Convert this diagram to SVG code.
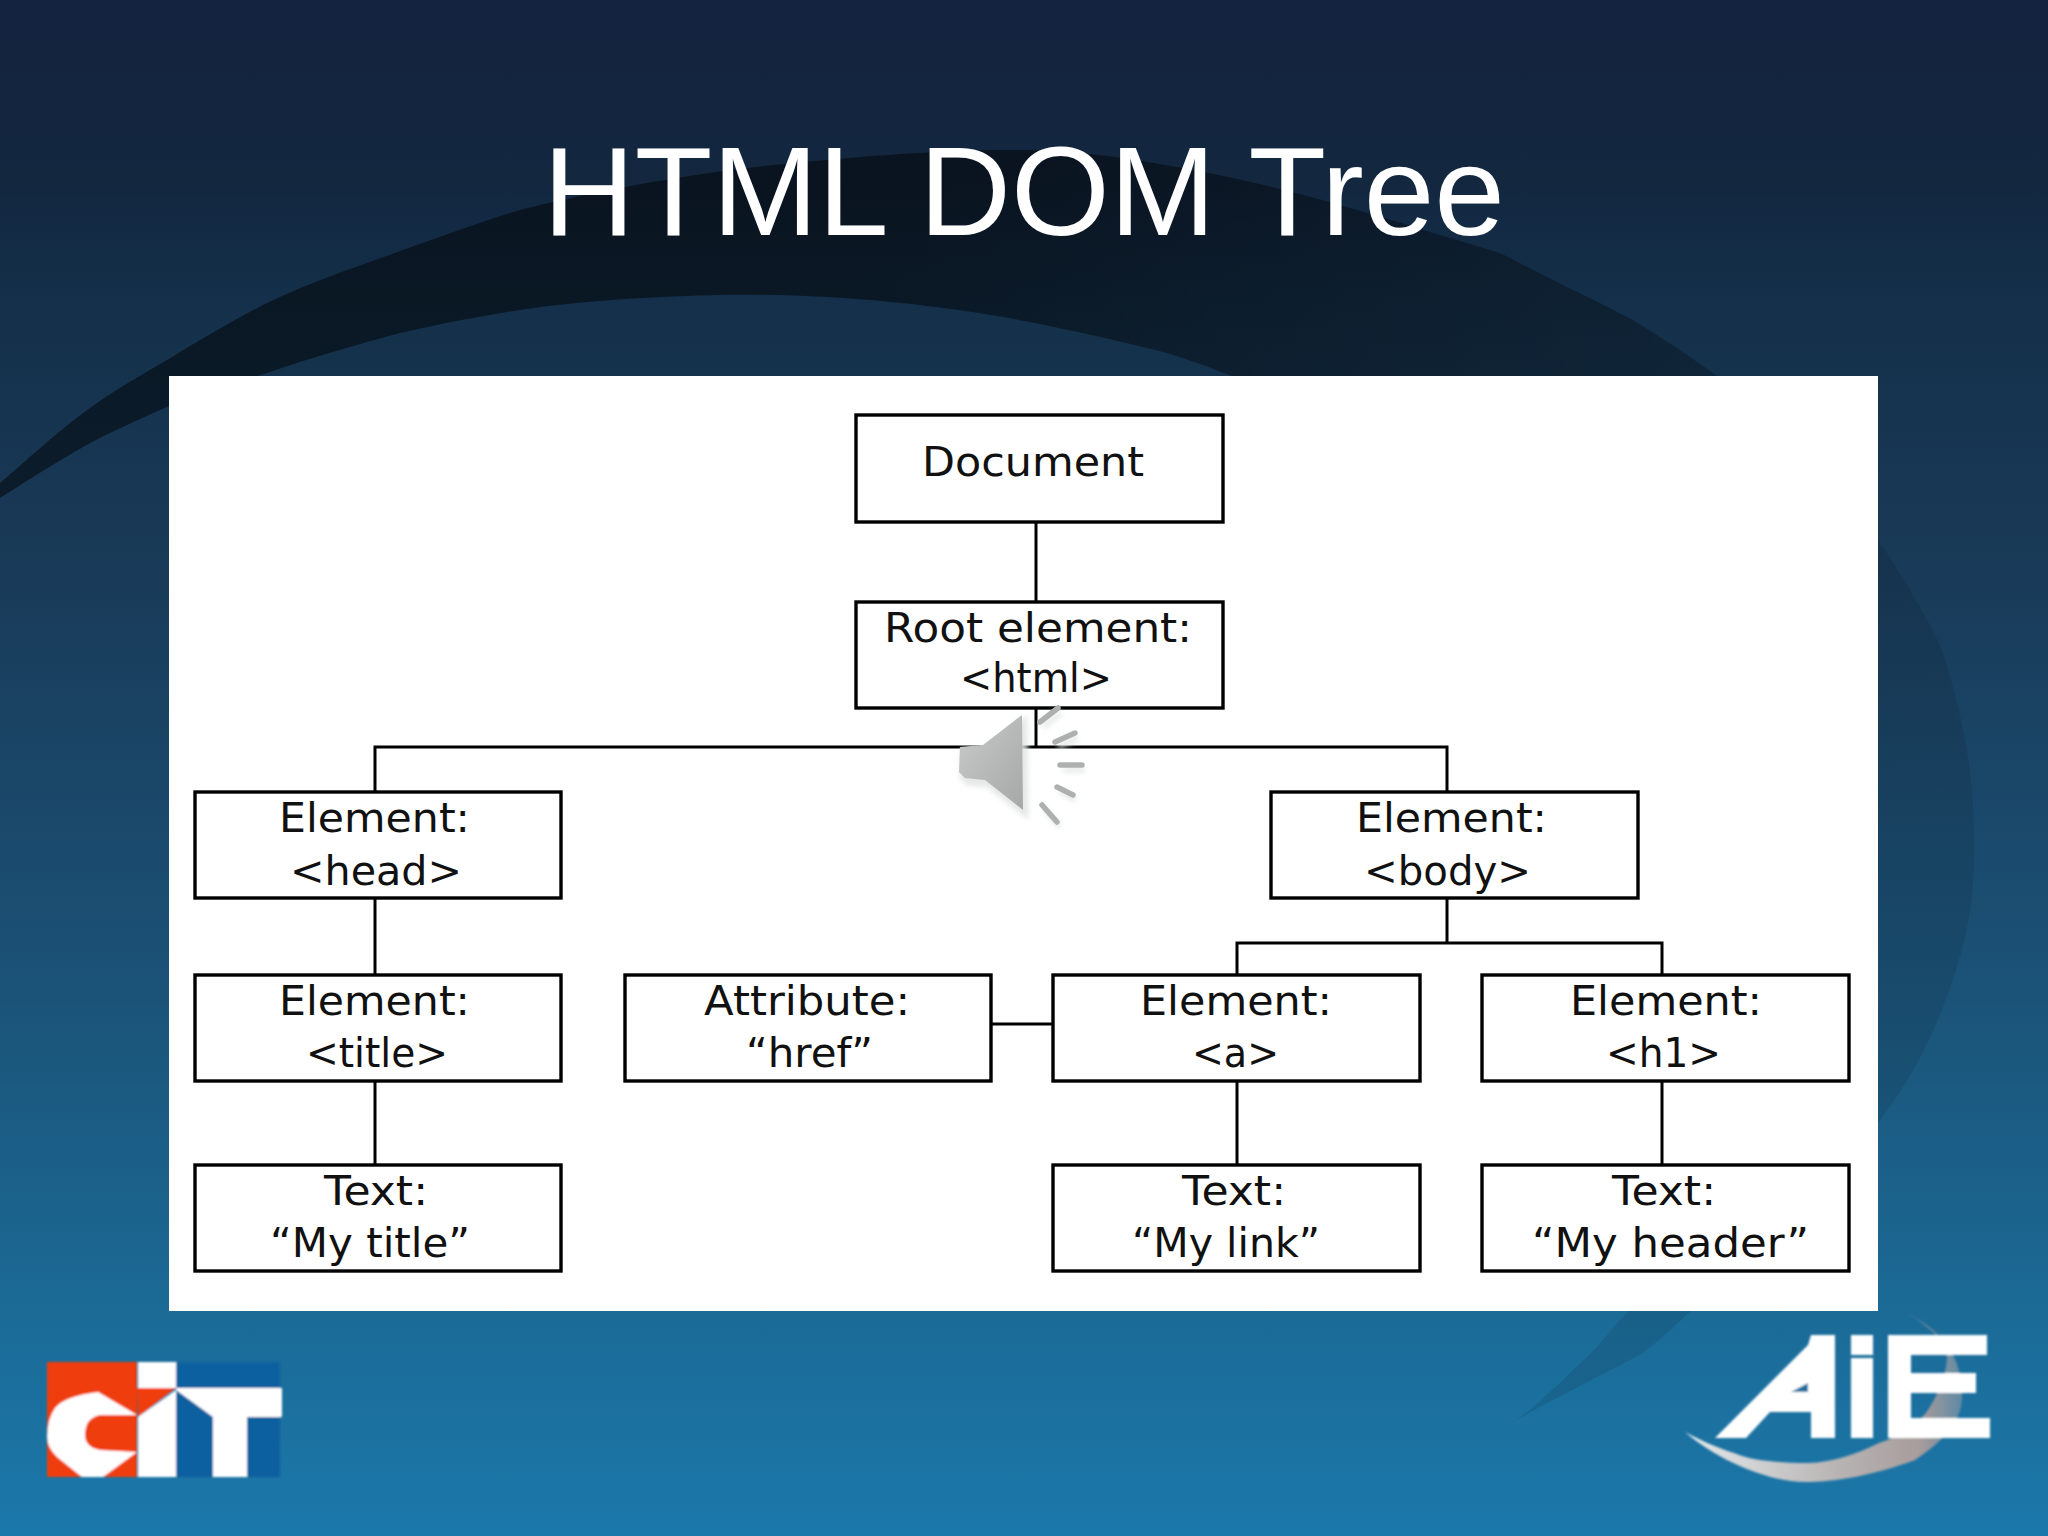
<svg xmlns="http://www.w3.org/2000/svg" width="2048" height="1536" viewBox="0 0 2048 1536">
<style>
.box{fill:#fff;stroke:#000;stroke-width:3.4}
.t{font-family:"DejaVu Sans","Liberation Sans",sans-serif;font-size:41px;fill:#111}
.c{fill:none;stroke:#000;stroke-width:3}
.ray{stroke:#aeb0b0;stroke-width:5.5;stroke-linecap:round;fill:none}
.w{fill:#fff}
</style>
<defs>
<linearGradient id="bg" x1="0" y1="0" x2="0" y2="1">
<stop offset="0" stop-color="#14233f"/><stop offset=".12" stop-color="#13273f"/><stop offset=".145" stop-color="#132a44"/><stop offset=".2" stop-color="#14304a"/><stop offset=".37" stop-color="#193a58"/><stop offset=".65" stop-color="#1b5378"/><stop offset=".85" stop-color="#1b6a96"/><stop offset="1" stop-color="#1b78aa"/>
</linearGradient>
<linearGradient id="sw" gradientUnits="userSpaceOnUse" x1="1000" y1="100" x2="1950" y2="800">
<stop offset="0" stop-color="#000" stop-opacity=".5"/><stop offset=".45" stop-color="#000" stop-opacity=".33"/><stop offset=".62" stop-color="#000" stop-opacity=".28"/><stop offset=".75" stop-color="#000" stop-opacity=".12"/><stop offset="1" stop-color="#000" stop-opacity=".1"/>
</linearGradient>
<linearGradient id="cres" x1="0" y1="0" x2="1" y2="0">
<stop offset="0" stop-color="#e6eaec"/><stop offset=".55" stop-color="#b8b4b4"/><stop offset=".85" stop-color="#a89c9c"/><stop offset="1" stop-color="#5f8aa4"/>
</linearGradient>
<linearGradient id="spk" x1="0" y1="0" x2="1" y2="1">
<stop offset="0" stop-color="#c9caca"/><stop offset="1" stop-color="#a6a8a8"/>
</linearGradient>
<filter id="blur" x="-30%" y="-30%" width="160%" height="160%"><feGaussianBlur stdDeviation="2.5"/></filter>
<filter id="soft" x="-5%" y="-5%" width="110%" height="110%"><feGaussianBlur stdDeviation=".8"/></filter>
</defs>

<rect id="background" width="2048" height="1536" fill="url(#bg)"/>
<path id="swoosh" fill="url(#sw)" d="M0,483 C28,459 55,434 83,413 C111,392 138,377 167,360 C200,340 233,320 267,303 C300,287 333,275 367,263 C418,245 470,225 520,210 C600,190 700,172 784,164 C862,156 951,149 1024,150 C1097,151 1170,165 1233,178 C1270,186 1300,194 1333,203 C1367,213 1400,222 1433,233 C1456,240 1478,246 1500,253 C1522,264 1545,276 1567,287 C1590,298 1612,309 1633,320 C1662,338 1688,355 1713,373 C1760,412 1835,485 1880,543 C1891,558 1900,574 1910,590 C1923,612 1935,632 1943,653 C1958,700 1971,758 1973,806 C1975,854 1976,901 1961,953 C1946,1005 1926,1059 1881,1119 C1836,1179 1752,1261 1690,1312 C1677,1324 1662,1338 1647,1350 C1630,1361 1613,1369 1597,1377 C1580,1386 1563,1395 1547,1403 C1535,1410 1523,1416 1512,1422 C1518,1418 1524,1414 1530,1410 C1541,1400 1552,1390 1563,1380 C1574,1369 1586,1358 1597,1347 C1607,1335 1617,1323 1627,1312 C1680,1200 1750,1000 1700,800 C1640,600 1400,430 1223,373 C1205,365 1185,359 1167,353 C1145,347 1122,342 1100,337 C1075,331 1050,326 1024,321 C930,303 820,293 718,295 C650,297 585,300 520,310 C480,316 440,324 400,333 C355,345 310,358 267,373 C233,384 200,395 167,407 C140,419 110,432 83,447 C55,463 28,480 0,498 Z"/>

<text id="title" x="1024" y="235" text-anchor="middle" font-family="Liberation Sans, Arial, sans-serif" font-size="127" fill="#fff">HTML DOM Tree</text>

<rect id="panel" x="169" y="376" width="1709" height="935" fill="#fff"/>

<g id="connectors">
<path class="c" d="M1036,522V602"/>
<path class="c" d="M1036,708V747"/>
<path class="c" d="M375,792V747H1447V792"/>
<path class="c" d="M375,898V975"/>
<path class="c" d="M375,1081V1165"/>
<path class="c" d="M1447,898V943"/>
<path class="c" d="M1237,975V943H1662V975"/>
<path class="c" d="M991,1024H1053"/>
<path class="c" d="M1237,1081V1165"/>
<path class="c" d="M1662,1081V1165"/>
</g>

<g id="node-document"><rect class="box" x="856" y="415" width="367" height="107"/>
<text class="t" x="922" y="476" textLength="222" lengthAdjust="spacingAndGlyphs">Document</text></g>
<g id="node-root"><rect class="box" x="856" y="602" width="367" height="106"/>
<text class="t" x="884" y="642" textLength="308" lengthAdjust="spacingAndGlyphs">Root element:</text>
<text class="t" x="960" y="692" textLength="152" lengthAdjust="spacingAndGlyphs">&lt;html&gt;</text></g>
<g id="node-head"><rect class="box" x="195" y="792" width="366" height="106"/>
<text class="t" x="279" y="832" textLength="191" lengthAdjust="spacingAndGlyphs">Element:</text>
<text class="t" x="290" y="885" textLength="172" lengthAdjust="spacingAndGlyphs">&lt;head&gt;</text></g>
<g id="node-body"><rect class="box" x="1271" y="792" width="367" height="106"/>
<text class="t" x="1356" y="832" textLength="191" lengthAdjust="spacingAndGlyphs">Element:</text>
<text class="t" x="1364" y="885" textLength="167" lengthAdjust="spacingAndGlyphs">&lt;body&gt;</text></g>
<g id="node-title"><rect class="box" x="195" y="975" width="366" height="106"/>
<text class="t" x="279" y="1015" textLength="191" lengthAdjust="spacingAndGlyphs">Element:</text>
<text class="t" x="306" y="1067" textLength="142" lengthAdjust="spacingAndGlyphs">&lt;title&gt;</text></g>
<g id="node-href"><rect class="box" x="625" y="975" width="366" height="106"/>
<text class="t" x="704" y="1015" textLength="206" lengthAdjust="spacingAndGlyphs">Attribute:</text>
<text class="t" x="746" y="1067" textLength="127" lengthAdjust="spacingAndGlyphs">“href”</text></g>
<g id="node-a"><rect class="box" x="1053" y="975" width="367" height="106"/>
<text class="t" x="1140" y="1015" textLength="192" lengthAdjust="spacingAndGlyphs">Element:</text>
<text class="t" x="1192" y="1067" textLength="87" lengthAdjust="spacingAndGlyphs">&lt;a&gt;</text></g>
<g id="node-h1"><rect class="box" x="1482" y="975" width="367" height="106"/>
<text class="t" x="1570" y="1015" textLength="192" lengthAdjust="spacingAndGlyphs">Element:</text>
<text class="t" x="1606" y="1067" textLength="115" lengthAdjust="spacingAndGlyphs">&lt;h1&gt;</text></g>
<g id="node-text-title"><rect class="box" x="195" y="1165" width="366" height="106"/>
<text class="t" x="324" y="1205" textLength="104" lengthAdjust="spacingAndGlyphs">Text:</text>
<text class="t" x="270" y="1257" textLength="200" lengthAdjust="spacingAndGlyphs">“My title”</text></g>
<g id="node-text-link"><rect class="box" x="1053" y="1165" width="367" height="106"/>
<text class="t" x="1182" y="1205" textLength="104" lengthAdjust="spacingAndGlyphs">Text:</text>
<text class="t" x="1132" y="1257" textLength="188" lengthAdjust="spacingAndGlyphs">“My link”</text></g>
<g id="node-text-header"><rect class="box" x="1482" y="1165" width="367" height="106"/>
<text class="t" x="1612" y="1205" textLength="104" lengthAdjust="spacingAndGlyphs">Text:</text>
<text class="t" x="1532" y="1257" textLength="277" lengthAdjust="spacingAndGlyphs">“My header”</text></g>

<g id="speaker">
<g filter="url(#blur)" fill="#e2e4e4" stroke="#e2e4e4" stroke-width="5" opacity=".85" transform="translate(3,5)">
<path d="M960,747L983,745L1022,715L1023,810L985,780L965,778L959,772Z"/>
<path d="M1040,722L1058,708M1055,742L1075,733M1060,765L1082,765M1057,787L1073,795M1042,805L1057,822"/>
</g>
<path fill="url(#spk)" d="M960,747L983,745L1022,715L1023,810L985,780L965,778L959,772Z"/>
<path class="ray" d="M1040,722L1058,708M1055,742L1075,733M1060,765L1082,765M1057,787L1073,795M1042,805L1057,822"/>
</g>

<g id="logo-cit" filter="url(#soft)">
<rect x="47" y="1362" width="90" height="115" fill="#f03c0a"/>
<rect x="176" y="1362" width="104" height="115" fill="#0a619f"/>
<path fill="#f03c0a" d="M137,1388H176L138,1417Z"/>
<path class="w" d="M138,1362H176V1388H138Z"/>
<path class="w" d="M138,1417L176,1390V1477H138Z"/>
<path class="w" d="M98,1392L137,1415H100Q85,1418 85,1435Q85,1447 100,1450L137,1452L103,1477H82L57,1457Q47,1447 47,1437Q47,1420 55,1408Q65,1396 98,1392Z"/>
<path class="w" d="M176,1388H282V1417H247V1477H213V1417L176,1390Z"/>
</g>

<g id="logo-aie" filter="url(#soft)">
<path fill="url(#cres)" d="M1685,1432C1720,1462 1770,1482 1806,1482C1860,1482 1915,1460 1915,1460C1945,1440 1962,1420 1962,1397C1962,1375 1958,1360 1947,1347C1935,1330 1918,1320 1902,1310C1915,1318 1928,1325 1936,1333C1945,1345 1947,1352 1947,1360C1945,1380 1935,1400 1926,1413C1910,1430 1895,1438 1879,1443C1855,1455 1830,1463 1806,1463C1775,1463 1750,1460 1734,1453C1715,1447 1700,1440 1685,1432Z"/>
<path class="w" d="M1715,1438L1808,1345L1811,1335H1835V1438H1811V1412H1770L1746,1438Z"/>
<path fill="#1b6f9f" d="M1791,1392L1808,1383V1392Z"/>
<path class="w" d="M1851,1335H1873V1355H1851ZM1851,1358H1873V1438H1851Z"/>
<path class="w" d="M1888,1335H1987V1355H1911V1373H1976V1393H1911V1418H1990V1438H1888Z"/>
</g>
</svg>
